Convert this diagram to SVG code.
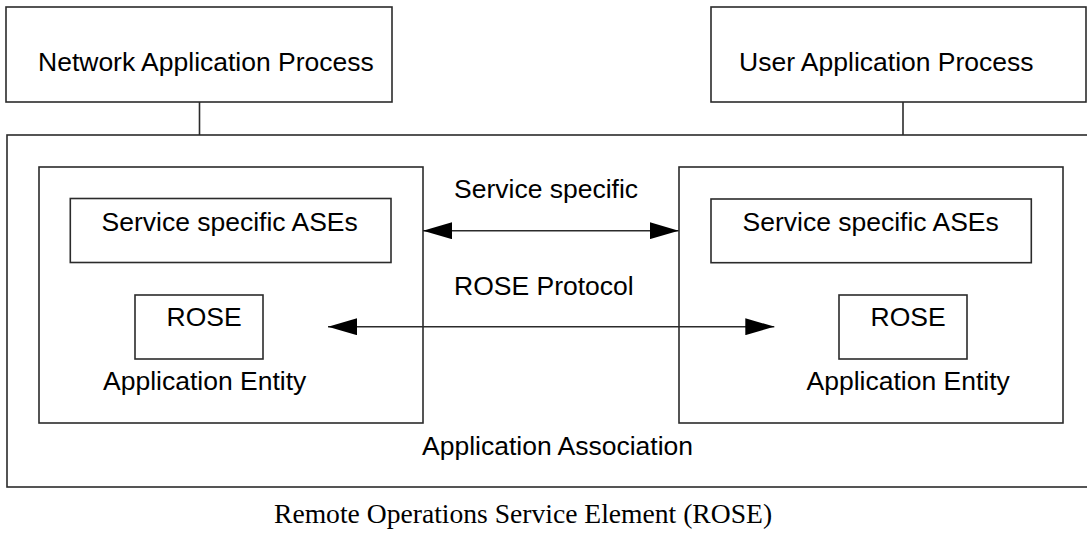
<svg xmlns="http://www.w3.org/2000/svg" width="1087" height="537" viewBox="0 0 1087 537">
<style>
rect{fill:none;stroke:#2b2b2b;stroke-width:1.6}
line{stroke:#2b2b2b;stroke-width:1.6}
text{font-family:"Liberation Sans",Arial,sans-serif;font-size:26.5px;fill:#000}
.cap{font-family:"Liberation Serif","Times New Roman",serif;font-size:27.6px}
</style>
<defs>
<marker id="ah" viewBox="0 0 29 17" refX="29" refY="8.5" markerWidth="29" markerHeight="17" markerUnits="userSpaceOnUse" orient="auto-start-reverse">
<path d="M0,0 L29,8.5 L0,17 z" fill="#000"/>
</marker>
</defs>
<rect fill="#fff" width="1087" height="537" style="fill:#fff;stroke:none"/>
<g id="outer">
<rect x="7" y="135" width="1100" height="352"/>
<text x="422" y="455">Application Association</text>
</g>
<g id="nap">
<rect x="6" y="7" width="386" height="95"/>
<text x="38" y="70.7">Network Application Process</text>
</g>
<g id="uap">
<rect x="711" y="7" width="375" height="95"/>
<text x="739" y="70.7">User Application Process</text>
</g>
<g id="ae-left">
<rect x="39" y="167" width="384" height="256"/>
<text x="103" y="390">Application Entity</text>
</g>
<g id="ase-left">
<rect x="70.3" y="198.5" width="320.7" height="64"/>
<text x="101.5" y="230.7">Service specific ASEs</text>
</g>
<g id="rose-left">
<rect x="135" y="295" width="128" height="64"/>
<text x="166.5" y="326">ROSE</text>
</g>
<g id="ae-right">
<rect x="679" y="167" width="384" height="256"/>
<text x="806.5" y="390">Application Entity</text>
</g>
<g id="ase-right">
<rect x="711" y="199" width="320.3" height="63.7"/>
<text x="742.5" y="230.7">Service specific ASEs</text>
</g>
<g id="rose-right">
<rect x="839" y="295" width="128" height="64"/>
<text x="870.5" y="326">ROSE</text>
</g>
<g id="connectors">
<line x1="199.5" y1="102" x2="199.5" y2="135"/>
<line x1="903" y1="102" x2="903" y2="135"/>
<line x1="423" y1="230.7" x2="678.7" y2="230.7" marker-start="url(#ah)" marker-end="url(#ah)"/>
<line x1="328" y1="326.7" x2="774.3" y2="326.7" marker-start="url(#ah)" marker-end="url(#ah)"/>
<text x="454" y="198.3">Service specific</text>
<text x="454" y="295">ROSE Protocol</text>
</g>
<text class="cap" x="274" y="523">Remote Operations Service Element (ROSE)</text>
</svg>
